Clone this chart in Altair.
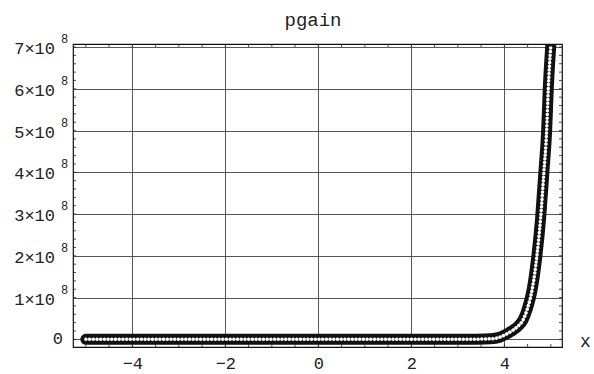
import altair as alt
import pandas as pd

# curve samples (y in units of 1e8)
xs = [-5, -4, -3, -2, -1, 0, 1, 2, 3, 3.4, 3.7, 3.9, 4.0, 4.1, 4.2, 4.3, 4.4, 4.5, 4.6, 4.7, 4.78, 4.85, 4.91, 4.945, 5.0]
ys = [0, 0, 0, 0, 0, 0, 0, 0, 0.002, 0.004, 0.012, 0.05, 0.1, 0.16, 0.23, 0.32, 0.46, 0.75, 1.2, 2.0, 2.9, 4.0, 5.0, 6.0, 7.05]

x_ticks = [-4, -2, 0, 2, 4]
y_ticks = [0, 1, 2, 3, 4, 5, 6, 7]
y_tick_mant = ["0", "1×10", "2×10", "3×10", "4×10", "5×10", "6×10", "7×10"]
x_minor = [v / 2 for v in range(-10, 11)]
y_minor = [v / 5 for v in range(0, 36)]
title_text = "pgain"

W, H = 489, 303
FONT = "Liberation Mono"
XDOM = [-5.276, 5.24]
YDOM = [-0.184e8, 7.073e8]

curve = pd.DataFrame({"x": xs, "y": [v * 1e8 for v in ys]})
ylab = pd.DataFrame({"v": [v * 1e8 for v in y_ticks], "t": y_tick_mant})
xmin_df = pd.DataFrame({"v": x_minor})
ymin_df = pd.DataFrame({"v": [v * 1e8 for v in y_minor]})

xs_ = alt.Scale(domain=XDOM, nice=False, zero=False)
ys_ = alt.Scale(domain=YDOM, nice=False, zero=False)

xaxis = alt.Axis(values=x_ticks, grid=True, gridColor="#444", gridWidth=0.9, gridOpacity=1,
                 domain=False, ticks=False, labelFont=FONT, labelFontSize=17, labelColor="#222",
                 labelPadding=8, labelFlush=False, title="x", titleFont=FONT, titleFontSize=18,
                 titleFontWeight="normal", titleColor="#222", titleX=512, titleY=-6,
                 titleBaseline="middle", titleAlign="center")
yaxis = alt.Axis(values=[v * 1e8 for v in y_ticks], grid=True, gridColor="#444", gridWidth=0.9,
                 gridOpacity=1, domain=False, ticks=False, labels=False, title=None)

X = alt.X("x:Q", scale=xs_, axis=xaxis)
Y = alt.Y("y:Q", scale=ys_, axis=yaxis)

line_bg = alt.Chart(curve).mark_line(color="#111", strokeWidth=11, strokeCap="round",
                                     interpolate="monotone", clip=True).encode(x=X, y=Y)
line_fg = alt.Chart(curve).mark_line(color="white", strokeWidth=3.5, strokeDash=[0.1, 3.6],
                                     strokeCap="round", interpolate="monotone", clip=True).encode(
    x=alt.X("x:Q", scale=xs_), y=alt.Y("y:Q", scale=ys_))

lab_main = alt.Chart(ylab).transform_filter("datum.v != 0").mark_text(
    font=FONT, fontSize=17, align="right", baseline="middle", color="#222", dy=2
).encode(x=alt.value(-18), y=alt.Y("v:Q", scale=ys_), text="t:N")
lab_zero = alt.Chart(ylab).transform_filter("datum.v == 0").mark_text(
    font=FONT, fontSize=17, align="right", baseline="middle", color="#222"
).encode(x=alt.value(-10), y=alt.Y("v:Q", scale=ys_), text="t:N")
lab_sup = alt.Chart(ylab).transform_filter("datum.v != 0").mark_text(
    font=FONT, fontSize=12, align="center", baseline="middle", color="#222", dy=-8
).encode(x=alt.value(-8.5), y=alt.Y("v:Q", scale=ys_), text=alt.value("8"))

title_mark = alt.Chart(pd.DataFrame({"t": [title_text]})).mark_text(
    font=FONT, fontSize=19, align="center", baseline="alphabetic", color="#222"
).encode(x=alt.value(240), y=alt.value(-18), text="t:N")

xt_bot = alt.Chart(xmin_df).mark_rule(color="#222", strokeWidth=0.8).encode(
    x=alt.X("v:Q", scale=xs_), y=alt.value(H), y2=alt.value(H - 3))
xt_top = alt.Chart(xmin_df).mark_rule(color="#222", strokeWidth=0.8).encode(
    x=alt.X("v:Q", scale=xs_), y=alt.value(0), y2=alt.value(3))
yt_left = alt.Chart(ymin_df).mark_rule(color="#222", strokeWidth=0.8).encode(
    y=alt.Y("v:Q", scale=ys_), x=alt.value(0), x2=alt.value(3))
yt_right = alt.Chart(ymin_df).mark_rule(color="#222", strokeWidth=0.8).encode(
    y=alt.Y("v:Q", scale=ys_), x=alt.value(W), x2=alt.value(W - 3))

chart = alt.layer(
    line_bg, line_fg, xt_bot, xt_top, yt_left, yt_right, lab_main, lab_zero, lab_sup, title_mark
).properties(
    width=W, height=H,
    autosize=alt.AutoSizeParams(type="none"),
    padding={"left": 73, "top": 44, "right": 32, "bottom": 27},
    background="white",
).configure_view(stroke="#111", strokeWidth=1.2)

chart.save("out.html", embed_options={"renderer": "svg", "actions": False})
